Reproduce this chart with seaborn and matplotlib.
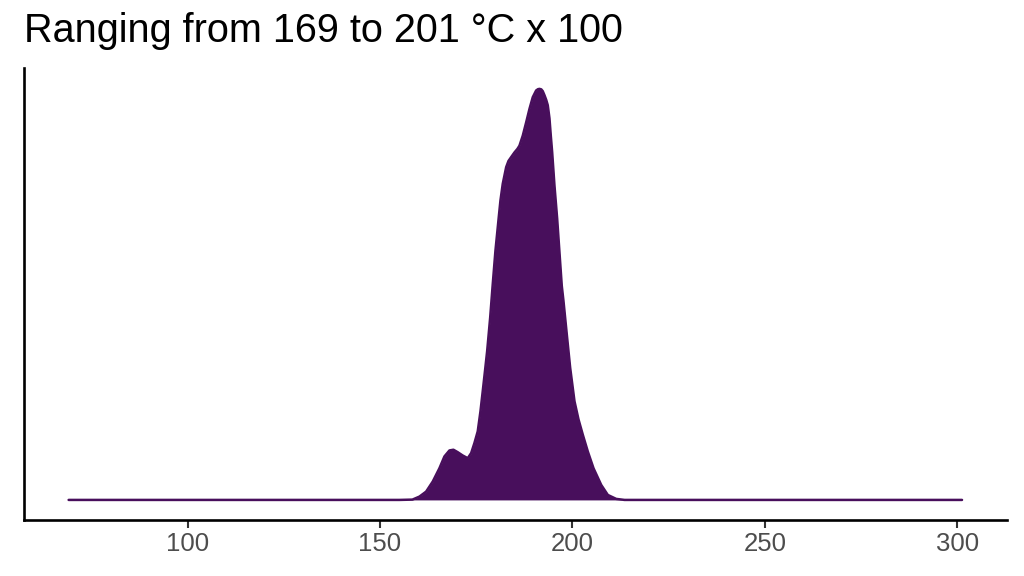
import matplotlib
matplotlib.use("Agg")
import matplotlib.pyplot as plt
import seaborn as sns
import pandas as pd

# Density curve (temperature, estimated density)
temperature = [69.1, 155.03, 158.41, 160.23, 161.97, 163.69, 165.43, 166.73, 168.03, 169.07,
               170.18, 171.48, 172.78, 173.67, 174.52, 175.38, 176.09, 176.68, 177.26, 177.83,
               178.61, 179.28, 179.98, 180.84, 181.28, 181.88, 182.77, 183.37, 184.07, 184.93,
               185.70, 186.22, 187.08, 187.97, 188.82, 189.68, 190.56, 191.03, 191.42, 191.89,
               192.28, 192.72, 193.16, 193.58, 194.02, 194.36, 194.72, 195.32, 196.02, 196.62,
               197.22, 197.66, 198.52, 199.40, 200.52, 201.56, 202.68, 203.98, 205.46, 207.46,
               209.18, 211.36, 213.52, 301.2]
density = [0.0, 0.0, 0.00004, 0.00042, 0.00105, 0.00232, 0.00401, 0.00550, 0.00626, 0.00635,
           0.00604, 0.00562, 0.00528, 0.00592, 0.00719, 0.00867, 0.01121, 0.01375, 0.01629, 0.01883,
           0.02305, 0.02729, 0.03152, 0.03575, 0.03787, 0.03999, 0.04210, 0.04288, 0.04337, 0.04396,
           0.04441, 0.04481, 0.04608, 0.04777, 0.04946, 0.05095, 0.05180, 0.05196, 0.05200, 0.05194,
           0.05171, 0.05120, 0.05063, 0.04993, 0.04828, 0.04612, 0.04400, 0.03977, 0.03558, 0.03131,
           0.02708, 0.02517, 0.02095, 0.01671, 0.01248, 0.01019, 0.00825, 0.00613, 0.00401, 0.00190,
           0.00063, 0.00013, 0.0, 0.0]
x_ticks = [100, 150, 200, 250, 300]
title_text = "Ranging from 169 to 201 °C x 100"

df = pd.DataFrame({"temperature": temperature, "density": density})

sns.set_theme(style="ticks")
plt.rcParams["font.family"] = ["Liberation Sans", "DejaVu Sans"]

fill_color = "#480F5C"

fig = plt.figure(figsize=(10.24, 5.76), dpi=100)
ax = fig.add_axes([0.0234, 0.0964, 0.9597, 0.785])

ax.fill_between(df["temperature"], 0, df["density"], color=fill_color, linewidth=0)
sns.lineplot(data=df, x="temperature", y="density", ax=ax, color=fill_color,
             linewidth=1.8, sort=False)

xmin, xmax = min(temperature), max(temperature)
ymin, ymax = 0.0, max(density)
xr, yr = xmax - xmin, ymax - ymin
ax.set_xlim(xmin - 0.05 * xr, xmax + 0.05 * xr)
ax.set_ylim(ymin - 0.05 * yr, ymax + 0.05 * yr)

ax.set_xticks(x_ticks)
ax.set_xticklabels([str(t) for t in x_ticks])
ax.set_yticks([])
ax.set_xlabel("")
ax.set_ylabel("")

for side in ["top", "right"]:
    ax.spines[side].set_visible(False)
for side in ["left", "bottom"]:
    ax.spines[side].set_color("black")
    ax.spines[side].set_linewidth(1.9)

ax.tick_params(axis="x", length=5.5, width=1.5, color="#333333",
               labelsize=18.5, labelcolor="#4D4D4D", pad=2.5)

fig.text(0.0234, 1 - 41.7 / 576, title_text, fontsize=28.5, color="black",
         ha="left", va="baseline")

fig.savefig("out.png", dpi=100)
